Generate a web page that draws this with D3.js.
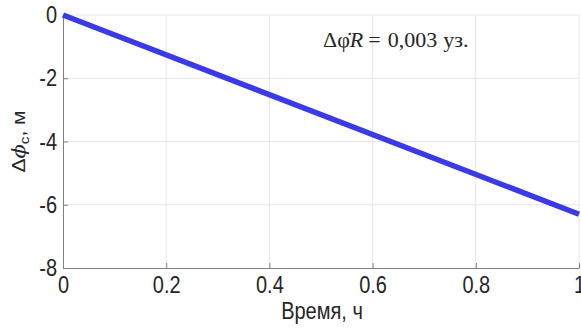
<!DOCTYPE html>
<html>
<head>
<meta charset="utf-8">
<script src="https://cdn.jsdelivr.net/npm/d3@7"></script>
<style>
  body { margin: 0; background: #fff; }
  text { font-family: "Liberation Sans", Arial, sans-serif; fill: #262626; }
  .tall { transform-box: fill-box; transform-origin: center; transform: scaleY(1.17); }
  .long { transform-box: fill-box; transform-origin: center; transform: scaleX(1.17); }
</style>
</head>
<body>
<div id="chart"></div>
<script>
const width = 581;
const height = 329;

// данные
const times = [0, 1];
const deltas = [0, -6.3];
const xTicks = [0, 0.2, 0.4, 0.6, 0.8, 1];
const yTicks = [0, -2, -4, -6, -8];

const margin = { top: 15, right: 2, bottom: 61, left: 63 };
const iw = width - margin.left - margin.right;
const ih = height - margin.top - margin.bottom;

const svg = d3.select("#chart")
  .append("svg")
  .attr("width", width)
  .attr("height", height);

const x = d3.scaleLinear().domain([0, 1]).range([margin.left, margin.left + iw]);
const y = d3.scaleLinear().domain([-8, 0]).range([margin.top + ih, margin.top]);

// сетка
svg.append("g")
  .selectAll("line")
  .data(xTicks.slice(1))
  .enter()
  .append("line")
  .attr("x1", d => x(d)).attr("x2", d => x(d))
  .attr("y1", y(0)).attr("y2", y(-8))
  .attr("stroke", "#e6e6e6");

svg.append("g")
  .selectAll("line")
  .data(yTicks.slice(0, -1))
  .enter()
  .append("line")
  .attr("x1", x(0)).attr("x2", x(1))
  .attr("y1", d => y(d)).attr("y2", d => y(d))
  .attr("stroke", "#e6e6e6");

// оси
const xAxis = svg.append("g")
  .attr("transform", `translate(0,${y(-8)})`)
  .call(d3.axisBottom(x).tickValues(xTicks).tickFormat(d3.format("")).tickSizeInner(-5).tickSizeOuter(0).tickPadding(10));
xAxis.select(".domain").attr("stroke", "#808080");
xAxis.selectAll(".tick line").attr("stroke", "#808080");
xAxis.selectAll("text").attr("font-size", 20).attr("fill", "#262626").attr("class", "tall");

const yAxis = svg.append("g")
  .attr("transform", `translate(${x(0)},0)`)
  .call(d3.axisLeft(y).tickValues(yTicks).tickFormat(d3.format("")).tickSizeInner(-5).tickSizeOuter(0).tickPadding(6));
yAxis.select(".domain").attr("stroke", "#808080");
yAxis.selectAll(".tick line").attr("stroke", "#808080");
yAxis.selectAll("text").attr("font-size", 20).attr("fill", "#262626").attr("class", "tall")
  .text(d => d < 0 ? "-" + Math.abs(d) : d);

// линия
const line = d3.line().x(d => x(d[0])).y(d => y(d[1]));
svg.append("path")
  .datum(times.map((t, i) => [t, deltas[i]]))
  .attr("d", line)
  .attr("fill", "none")
  .attr("stroke", "#3a3aea")
  .attr("stroke-width", 5.5);

// подписи
svg.append("text")
  .attr("class", "tall")
  .attr("x", x(0.5) + 1)
  .attr("y", 318)
  .attr("text-anchor", "middle")
  .attr("font-size", 20)
  .text("Время, ч");

const yl = svg.append("g")
  .attr("transform", `translate(25,${y(-4)}) rotate(-90)`)
  .append("text")
  .attr("class", "long")
  .attr("text-anchor", "middle")
  .attr("font-size", 18);
yl.append("tspan").text("Δ");
yl.append("tspan").attr("font-style", "italic").attr("font-family", "DejaVu Serif, serif").text("ϕ");
yl.append("tspan").attr("font-size", 13).attr("dy", 4).text("c");
yl.append("tspan").attr("dy", -4).text(", м");

const ann = svg.append("text")
  .attr("x", 323)
  .attr("y", 47)
  .attr("font-size", 22)
  .style("font-family", "'Liberation Serif', 'Times New Roman', serif");
ann.append("tspan").text("Δφ̇");
ann.append("tspan").attr("font-style", "italic").text("R");
ann.append("tspan").attr("dx", 5).text("=");
ann.append("tspan").attr("dx", 7).text("0,003");
ann.append("tspan").attr("dx", 6).text("уз.");
</script>
</body>
</html>
